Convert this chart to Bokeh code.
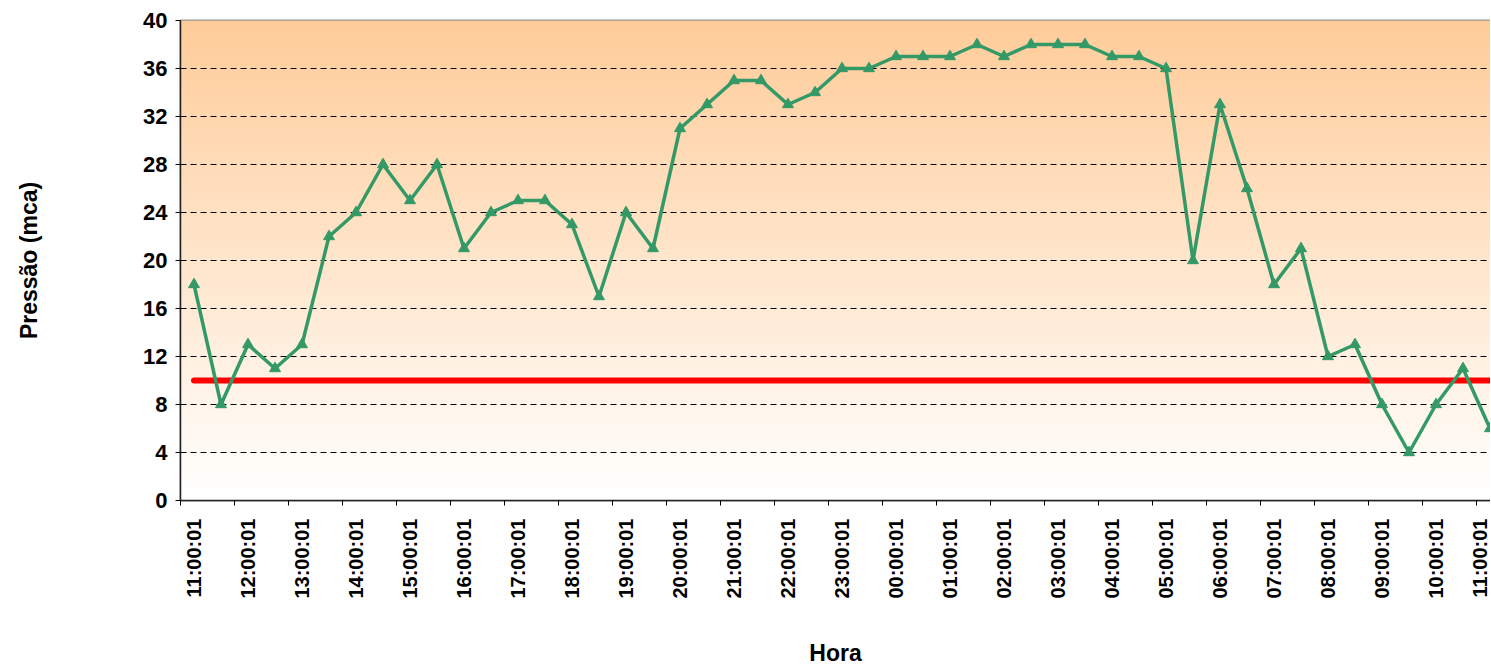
import math
import numpy as np
from bokeh.plotting import figure
from bokeh.models import FixedTicker, Range1d, ColumnDataSource
from bokeh.embed import file_html
from bokeh.resources import INLINE

# ---- data ----
times = ["11:00:01", "11:30:01", "12:00:01", "12:30:01", "13:00:01", "13:30:01",
         "14:00:01", "14:30:01", "15:00:01", "15:30:01", "16:00:01", "16:30:01",
         "17:00:01", "17:30:01", "18:00:01", "18:30:01", "19:00:01", "19:30:01",
         "20:00:01", "20:30:01", "21:00:01", "21:30:01", "22:00:01", "22:30:01",
         "23:00:01", "23:30:01", "00:00:01", "00:30:01", "01:00:01", "01:30:01",
         "02:00:01", "02:30:01", "03:00:01", "03:30:01", "04:00:01", "04:30:01",
         "05:00:01", "05:30:01", "06:00:01", "06:30:01", "07:00:01", "07:30:01",
         "08:00:01", "08:30:01", "09:00:01", "09:30:01", "10:00:01", "10:30:01",
         "11:00:01"]
pressure = [18, 8, 13, 11, 13, 22, 24, 28, 25, 28, 21, 24,
            25, 25, 23, 17, 24, 21, 31, 33, 35, 35, 33, 34,
            36, 36, 37, 37, 37, 38, 37, 38, 38, 38, 37, 37,
            36, 20, 33, 26, 18, 21, 12, 13, 8, 4, 8, 11,
            6]
limit = [10] * len(times)
y_ticks = [0, 4, 8, 12, 16, 20, 24, 28, 32, 36, 40]

idx = list(range(len(times)))
src = ColumnDataSource(dict(x=idx, p=pressure, lim=limit, t=times))

FONT = "Liberation Sans"
W, H = 1490, 670
BL, BT, BB = 180, 20, 170
x_start = -0.5
x_end = x_start + (W - BL) / 27.0

p = figure(width=W, height=H, output_backend="svg", toolbar_location=None,
           x_range=Range1d(x_start, x_end), y_range=Range1d(0, 40),
           min_border_left=BL, min_border_right=0, min_border_top=BT,
           min_border_bottom=BB, background_fill_color="white",
           border_fill_color="white")

# gradient background (peach at top to white at bottom)
rows = 480
top = np.array([255, 204, 153], dtype=float)
bot = np.array([255, 255, 255], dtype=float)
img = np.empty((rows, 2), dtype=np.uint32)
view = img.view(dtype=np.uint8).reshape((rows, 2, 4))
for r in range(rows):
    f = r / (rows - 1)  # r=0 bottom
    c = bot * (1 - f) + top * f
    view[r, :, 0] = int(round(c[0]))
    view[r, :, 1] = int(round(c[1]))
    view[r, :, 2] = int(round(c[2]))
    view[r, :, 3] = 255
p.image_rgba(image=[img], x=x_start, y=0, dw=x_end - x_start, dh=40, level="image")

p.outline_line_color = "#999999"
p.outline_line_width = 2

# grid
p.xgrid.visible = False
p.ygrid.ticker = FixedTicker(ticks=y_ticks[1:-1])
p.ygrid.grid_line_color = "black"
p.ygrid.grid_line_dash = "6 4"
p.ygrid.grid_line_width = 1
p.ygrid.level = "underlay"

# series
p.line(x="x", y="lim", source=src, line_color="#FF0000", line_width=6, line_cap="round")
p.line(x="x", y="p", source=src, line_color="#339966", line_width=3.5, line_join="round")
p.scatter(x="x", y="p", source=src, marker="triangle", size=11,
          fill_color="#339966", line_color="#339966")

# x axis
label_pos = idx[::2]
p.xaxis.ticker = FixedTicker(ticks=label_pos,
                             minor_ticks=[i - 0.5 for i in label_pos])
p.xaxis.major_label_overrides = {i: times[i] for i in label_pos}
p.xaxis.major_label_orientation = math.pi / 2
p.xaxis.major_tick_out = 0
p.xaxis.major_tick_in = 0
p.xaxis.minor_tick_line_color = "black"
p.xaxis.minor_tick_out = 5
p.xaxis.minor_tick_in = 0
p.xaxis.major_label_standoff = 13
p.xaxis.axis_label = "Hora"
p.xaxis.axis_label_standoff = 38

# y axis
p.yaxis.ticker = FixedTicker(ticks=y_ticks)
p.yaxis.minor_tick_line_color = None
p.yaxis.major_tick_out = 5
p.yaxis.major_tick_in = 0
p.yaxis.major_label_standoff = 8
p.yaxis.axis_label = "Pressão (mca)"
p.yaxis.axis_label_standoff = 98

for ax in (p.xaxis, p.yaxis):
    ax.axis_line_color = "#222222"
    ax.axis_line_width = 1.5
    ax.major_label_text_font = FONT
    ax.major_label_text_font_style = "bold"
    ax.major_label_text_color = "black"
    ax.axis_label_text_font = FONT
    ax.axis_label_text_font_style = "bold"
    ax.axis_label_text_color = "black"
    ax.axis_label_text_font_size = "23px"

p.xaxis.major_tick_line_color = None
p.yaxis.major_tick_line_color = "black"
p.xaxis.major_label_text_font_size = "20px"
p.yaxis.major_label_text_font_size = "22px"

open("out.html", "w").write(file_html(p, INLINE))
